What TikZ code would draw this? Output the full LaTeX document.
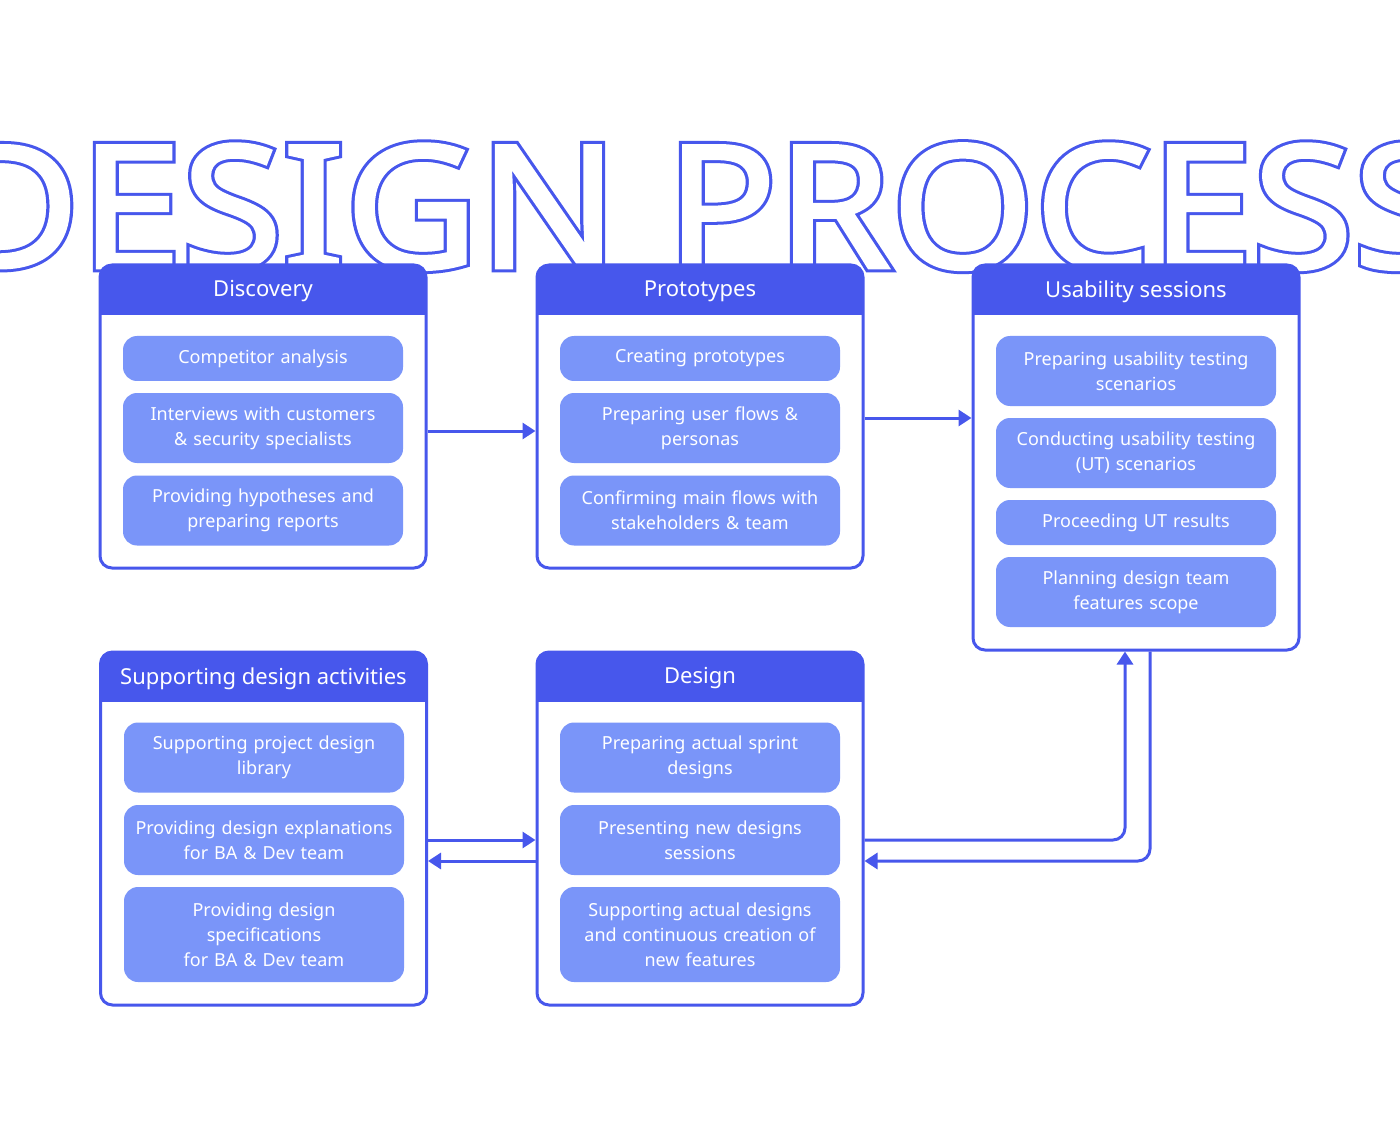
\documentclass[tikz,border=0pt]{standalone}
\usepackage{fontspec}
\setmainfont{Noto Sans}
\usetikzlibrary{arrows.meta}
\definecolor{headblue}{HTML}{4757EC}
\definecolor{itemblue}{HTML}{7A95F9}
% text drawn with fill and a stroke of the given width (in bp)
\newcommand{\strokedtext}[2]{\special{pdf:literal direct 2 Tr #1 w}#2\special{pdf:literal direct 0 Tr}}
\tikzset{
  panel/.style={draw=headblue, line width=2.25pt, fill=white, rounded corners=9pt,
    minimum width=244.5pt, inner sep=0pt,
    path picture={\fill[headblue, sharp corners] (path picture bounding box.north west)
      rectangle ([yshift=-37.5pt]path picture bounding box.north east);}},
  headtext/.style={text=white, font=\fontsize{16.5}{20}\selectfont, inner sep=0pt},
  item/.style={fill=itemblue, rounded corners=10.5pt, minimum width=210pt, text width=205pt,
    align=center, text=white, font=\fontsize{13.5}{18.75}\selectfont, inner sep=0pt},
  bigtitle/.style={anchor=base, font=\fontsize{128.7}{130}\selectfont, inner sep=0pt},
  link/.style={draw=headblue, line width=2.25pt, -{Triangle[length=9.75pt,width=12pt]}}
}
\begin{document}
\begin{tikzpicture}[x=0.75pt, y=-0.75pt]
  \useasboundingbox[fill=white] (0,0) rectangle (1400,1134);
  % outlined title behind the panels: blue widened letters, white letters on top
  \node[bigtitle, text=headblue] (title) at (700,268)
    {\scalebox{1.07}[1]{\strokedtext{6.7}{DESIGN PROCESS}}};
  \node[bigtitle, text=white] (title-in) at (title.base)
    {\scalebox{1.07}[1]{\strokedtext{2.2}{DESIGN PROCESS}}};
  % panels
  \node[panel, minimum height=227.25pt] (disc) at (263,416.5) {};
  \node[panel, minimum height=227.25pt] (proto) at (700,416.5) {};
  \node[panel, minimum height=288.75pt] (usab) at (1136,457.5) {};
  \node[panel, minimum height=264.75pt] (supp) at (263.5,828.5) {};
  \node[panel, minimum height=264.75pt] (design) at (700,828.5) {};
  % panel titles
  \node[headtext] (disc-t) at ([yshift=-21pt]disc.north) {Discovery};
  \node[headtext] (proto-t) at ([yshift=-21pt]proto.north) {Prototypes};
  \node[headtext] (usab-t) at ([yshift=-21pt]usab.north) {Usability sessions};
  \node[headtext] (supp-t) at ([yshift=-21pt]supp.north) {Supporting design activities};
  \node[headtext] (design-t) at ([yshift=-21pt]design.north) {Design};
  % items
  \foreach \i/\y/\h/\t in {1/358.5/33.75pt/{Competitor analysis},
      2/428/52.5pt/{Interviews with customers\\\& security specialists},
      3/510.5/52.5pt/{Providing hypotheses and\\preparing reports}}
    \node[item, minimum height=\h] (disc\i) at (263,\y) {\t};
  \foreach \i/\y/\h/\t in {1/358.5/33.75pt/{Creating prototypes},
      2/428/52.5pt/{Preparing user flows \&\\personas},
      3/510.5/52.5pt/{Confirming main flows with\\stakeholders \& team}}
    \node[item, minimum height=\h] (proto\i) at (700,\y) {\t};
  \foreach \i/\y/\h/\t in {1/371/52.5pt/{Preparing usability testing\\scenarios},
      2/453/52.5pt/{Conducting usability testing\\(UT) scenarios},
      3/522.5/33.75pt/{Proceeding UT results},
      4/592/52.5pt/{Planning design team\\features scope}}
    \node[item, minimum height=\h] (usab\i) at (1136,\y) {\t};
  \foreach \i/\y/\h/\t in {1/757.5/52.5pt/{Supporting project design\\library},
      2/840/52.5pt/{Providing design explanations\\for BA \& Dev team},
      3/934.5/71.25pt/{Providing design\\specifications\\for BA \& Dev team}}
    \node[item, minimum height=\h] (supp\i) at (264,\y) {\t};
  \foreach \i/\y/\h/\t in {1/757.5/52.5pt/{Preparing actual sprint\\designs},
      2/840/52.5pt/{Presenting new designs\\sessions},
      3/934.5/71.25pt/{Supporting actual designs\\and continuous creation of\\new features}}
    \node[item, minimum height=\h] (design\i) at (700,\y) {\t};
  % connectors
  \draw[link] (disc.east |- 0,431) -- (proto.west |- 0,431);
  \draw[link] (proto.east |- 0,418) -- (usab.west |- 0,418);
  \draw[link, rounded corners=9pt] (design.east |- 0,840) -| (usab.south -| 1125,0);
  \draw[link, rounded corners=9pt] (usab.south -| 1150,0) |- (design.east |- 0,861);
  \draw[link] (supp.east |- 0,840) -- (design.west |- 0,840);
  \draw[link] (design.west |- 0,861) -- (supp.east |- 0,861);
\end{tikzpicture}
\end{document}
